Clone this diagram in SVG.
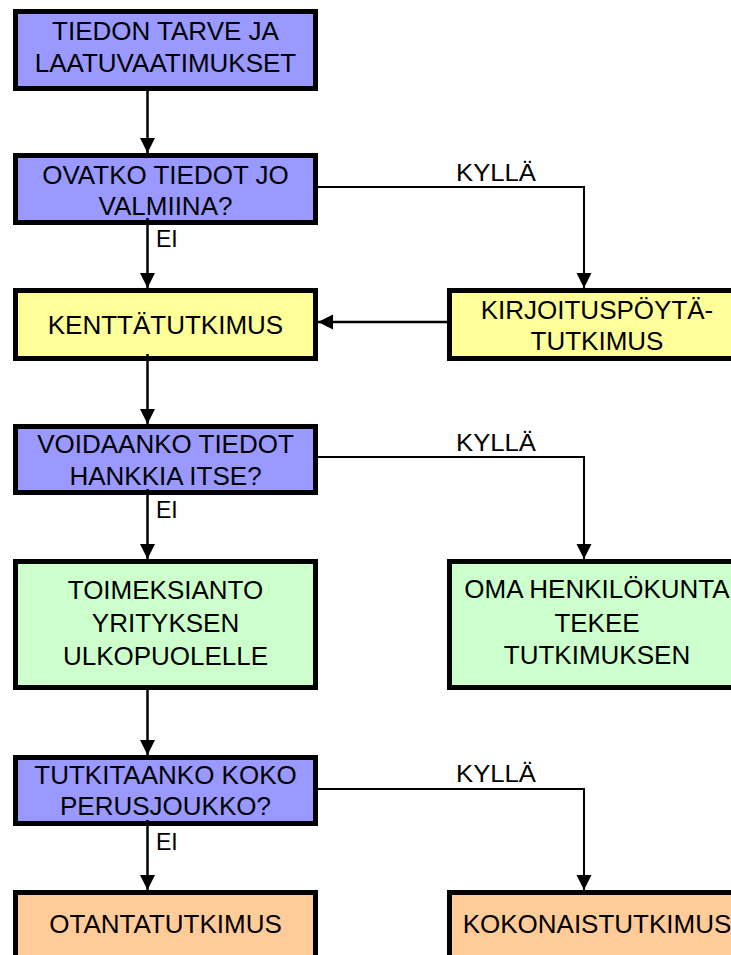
<svg xmlns="http://www.w3.org/2000/svg" width="731" height="955" viewBox="0 0 731 955">
<defs>
<style>
.box{stroke:#000;stroke-width:5}
.blue{fill:#9999FF}.yellow{fill:#FFFF99}.green{fill:#CCFFCC}.orange{fill:#FFCC99}
.t{font-family:"Liberation Sans",Arial,sans-serif;font-size:26px;fill:#000;text-anchor:middle}
.lbl{font-family:"Liberation Sans",Arial,sans-serif;font-size:23px;fill:#000}
.c{fill:none;stroke:#000;stroke-width:2.5}
.h{fill:none;stroke:#000;stroke-width:2}
</style>
<marker id="ah" markerUnits="userSpaceOnUse" markerWidth="16" markerHeight="16" refX="15" refY="7.5" orient="auto">
<path d="M0,0 L15,7.5 L0,15 z" fill="#000"/>
</marker>
</defs>
<rect width="731" height="955" fill="#fff"/>
<g id="n1"><rect class="box blue" x="15.5" y="11.5" width="300" height="77"/>
<text class="t" x="165.5" y="40">TIEDON TARVE JA</text><text class="t" x="165.5" y="72">LAATUVAATIMUKSET</text></g>
<g id="n2"><rect class="box blue" x="15.5" y="155.5" width="300" height="67"/>
<text class="t" x="165.5" y="184">OVATKO TIEDOT JO</text><text class="t" x="165.5" y="215">VALMIINA?</text></g>
<g id="n3"><rect class="box yellow" x="15.5" y="290.5" width="300" height="68"/>
<text class="t" x="165.5" y="334">KENTTÄTUTKIMUS</text></g>
<g id="n4"><rect class="box yellow" x="449.5" y="290.5" width="300" height="68"/>
<text class="t" x="597" y="319">KIRJOITUSPÖYTÄ-</text><text class="t" x="597" y="350">TUTKIMUS</text></g>
<g id="n5"><rect class="box blue" x="15.5" y="426.5" width="300" height="66"/>
<text class="t" x="165.5" y="453">VOIDAANKO TIEDOT</text><text class="t" x="165.5" y="485">HANKKIA ITSE?</text></g>
<g id="n6"><rect class="box green" x="449.5" y="561.5" width="300" height="126"/>
<text class="t" x="597" y="598">OMA HENKILÖKUNTA</text><text class="t" x="597" y="632">TEKEE</text><text class="t" x="597" y="664">TUTKIMUKSEN</text></g>
<g id="n7"><rect class="box green" x="15.5" y="561.5" width="300" height="126"/>
<text class="t" x="165.5" y="599">TOIMEKSIANTO</text><text class="t" x="165.5" y="632">YRITYKSEN</text><text class="t" x="165.5" y="665">ULKOPUOLELLE</text></g>
<g id="n8"><rect class="box blue" x="15.5" y="757.5" width="300" height="66"/>
<text class="t" x="165.5" y="784">TUTKITAANKO KOKO</text><text class="t" x="165.5" y="815">PERUSJOUKKO?</text></g>
<g id="n9"><rect class="box orange" x="15.5" y="892.5" width="300" height="80"/>
<text class="t" x="165.5" y="933">OTANTATUTKIMUS</text></g>
<g id="n10"><rect class="box orange" x="449.5" y="892.5" width="300" height="80"/>
<text class="t" x="597" y="933">KOKONAISTUTKIMUS</text></g>
<g id="connectors">
<path class="c" d="M147.5,88 V153" marker-end="url(#ah)"/>
<path class="c" d="M147.5,218 V288" marker-end="url(#ah)"/>
<path class="h" d="M318,187 H584 V288" marker-end="url(#ah)"/>
<path class="c" d="M447,322 H318" marker-end="url(#ah)"/>
<path class="c" d="M147.5,354 V424" marker-end="url(#ah)"/>
<path class="c" d="M147.5,489 V559" marker-end="url(#ah)"/>
<path class="h" d="M318,457 H584 V559" marker-end="url(#ah)"/>
<path class="c" d="M147.5,685 V755" marker-end="url(#ah)"/>
<path class="c" d="M147.5,820 V890" marker-end="url(#ah)"/>
<path class="h" d="M318,789 H584 V890" marker-end="url(#ah)"/>
<text class="lbl" x="456" y="181" textLength="80" lengthAdjust="spacingAndGlyphs">KYLLÄ</text>
<text class="lbl" x="156" y="247">EI</text>
<text class="lbl" x="456" y="451" textLength="80" lengthAdjust="spacingAndGlyphs">KYLLÄ</text>
<text class="lbl" x="156" y="518">EI</text>
<text class="lbl" x="456" y="782" textLength="80" lengthAdjust="spacingAndGlyphs">KYLLÄ</text>
<text class="lbl" x="156" y="850">EI</text>
</g>
</svg>
